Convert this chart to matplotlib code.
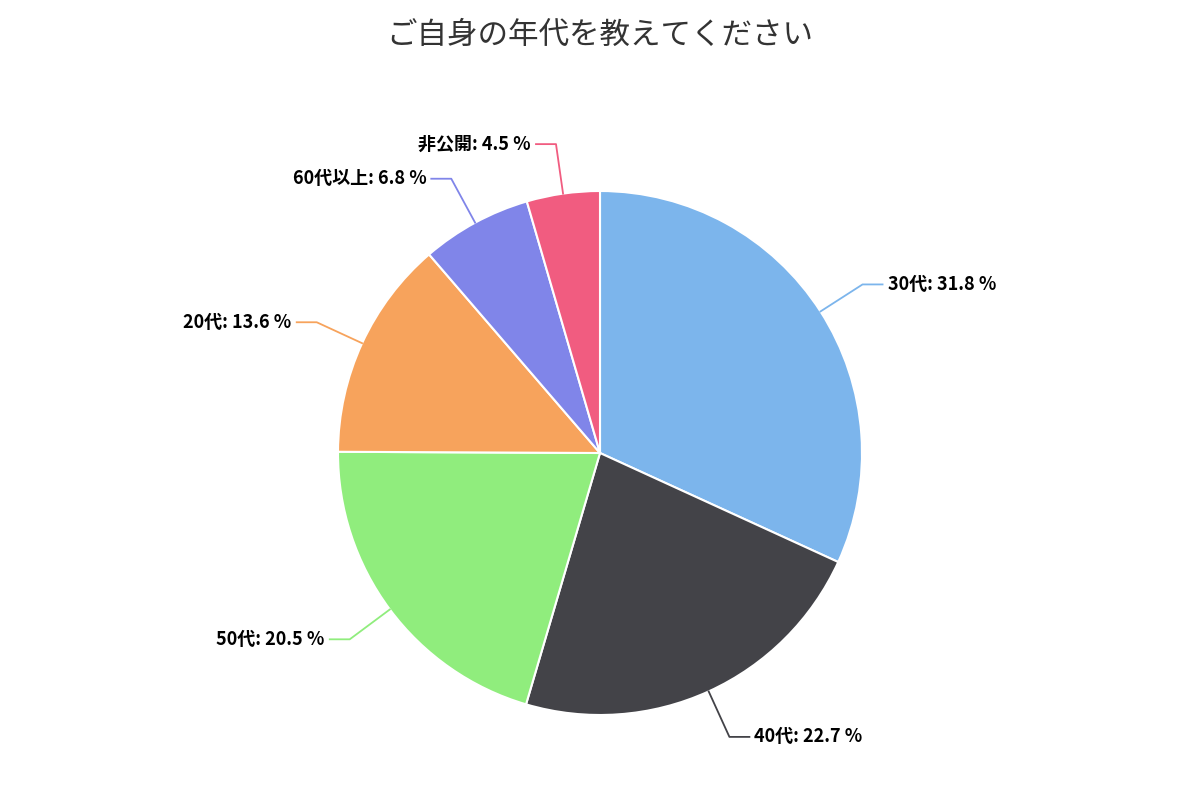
import matplotlib
matplotlib.use("Agg")
import matplotlib.pyplot as plt
import numpy as np

plt.rcParams['font.family'] = ['Noto Sans CJK JP', 'DejaVu Sans']

labels = ['30代', '40代', '50代', '20代', '60代以上', '非公開']
values = [31.8, 22.7, 20.5, 13.6, 6.8, 4.5]
colors = ['#7cb5ec', '#434348', '#90ed7d', '#f7a35c', '#8085e9', '#f15c80']

fig = plt.figure(figsize=(12, 8), dpi=100)
ax = fig.add_axes([0, 0, 1, 1])
ax.set_xlim(0, 1200)
ax.set_ylim(0, 800)
ax.set_aspect('equal')
ax.axis('off')

cx, cy, R = 600, 800 - 453, 262
wedges, _ = ax.pie(values, colors=colors, startangle=90, counterclock=False,
                   center=(cx, cy), radius=R,
                   wedgeprops=dict(edgecolor='white', linewidth=1.5))
ax.set_xlim(0, 1200); ax.set_ylim(0, 800)

for w, lab, val, col in zip(wedges, labels, values, colors):
    a = np.deg2rad((w.theta1 + w.theta2) / 2)
    ca, sa = np.cos(a), np.sin(a)
    p0 = (cx + R * ca, cy + R * sa)
    p1 = (cx + (R + 30) * ca, cy + (R + 30) * sa)
    p2 = (cx + (R + 50) * ca, cy + (R + 50) * sa)
    sgn = 1 if ca >= 0 else -1
    p3 = (p2[0] + sgn * 20, p2[1])
    ax.plot([p0[0], p1[0], p2[0], p3[0]], [p0[1], p1[1], p2[1], p3[1]],
            color=col, lw=1.3)
    ax.text(p3[0] + sgn * 5, p3[1], f'{lab}: {val} %', ha='left' if sgn > 0 else 'right',
            va='center', fontsize=13, fontweight='bold', color='black')

ax.text(600, 800 - 35, 'ご自身の年代を教えてください', ha='center', va='center',
        fontsize=22, color='#333333')

fig.savefig('out.png', dpi=100)
